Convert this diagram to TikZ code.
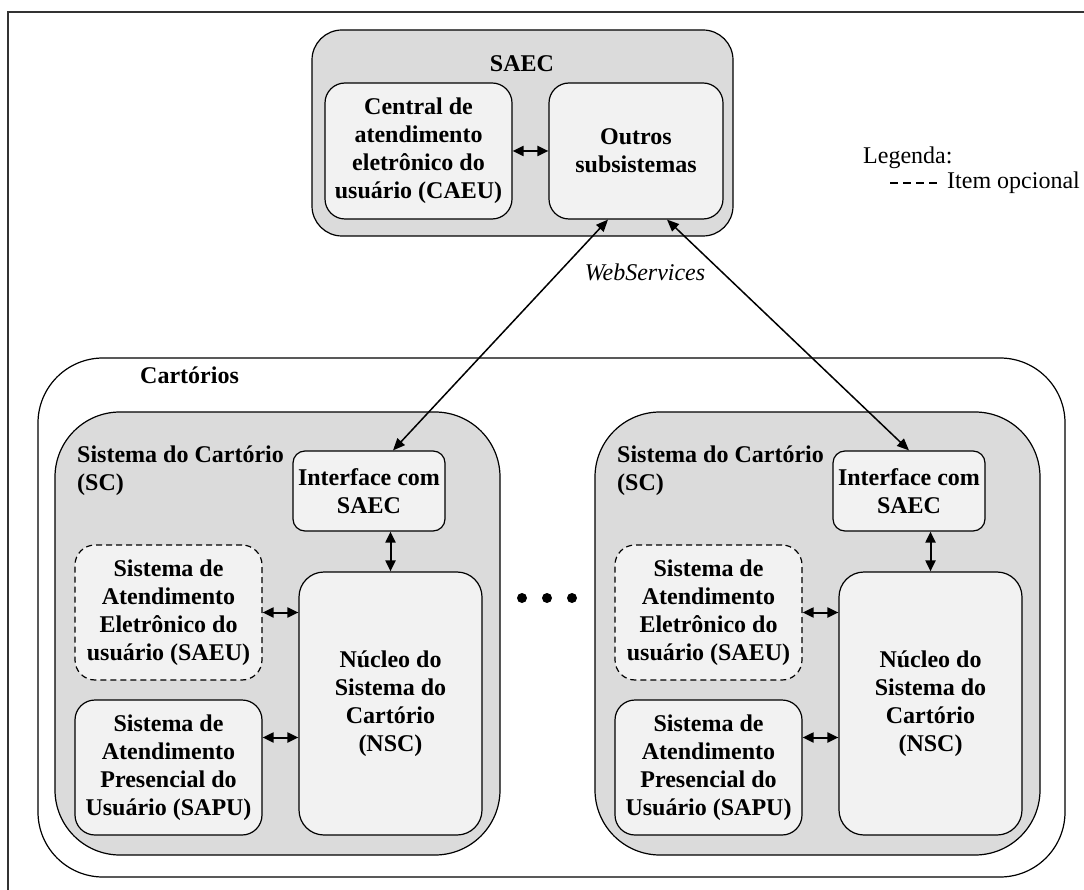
\documentclass[tikz,border=0pt]{standalone}
\usepackage{fontspec}
\setmainfont{Liberation Serif}
\usepackage{xcolor}
\colorlet{colSys}{black!14}
\colorlet{colSub}{black!5}
\colorlet{colFrame}{black!80}
\usepackage{tikz}
\usetikzlibrary{arrows.meta}
\newcommand{\diagfont}{\fontsize{24}{28}\selectfont}
\tikzset{
	sysbox/.style={draw, line width=1.2pt, rounded corners=#1, fill=colSys, inner sep=0pt},
	sysbox/.default=30pt,
	subbox/.style={draw, line width=1.2pt, rounded corners=#1, fill=colSub, align=center, inner sep=0pt, font=\diagfont\bfseries},
	subbox/.default=20pt,
	optbox/.style={subbox, dash pattern=on 6pt off 4pt},
	lbl/.style={inner sep=0pt, font=\diagfont\bfseries},
	biarr/.style={{Triangle[length=11pt, width=10pt]}-{Triangle[length=11pt, width=10pt]}, line width=2pt},
	wsarr/.style={{Triangle[length=12pt, width=10pt]}-{Triangle[length=12pt, width=10pt]}, line width=1.5pt},
}

\begin{document}
\begin{tikzpicture}[x=1pt, y=-1pt]
	\useasboundingbox (0,0) rectangle (1084,890);
	\draw[line width=2pt, colFrame] (8,890) |- (1084,12);

	% SAEC
	\node[sysbox, minimum width=421pt, minimum height=206pt] (saec) at (522.5,133) {};
	\node[lbl, anchor=base] (saecLbl) at (522,72) {SAEC};
	\node[subbox, minimum width=187pt, minimum height=136pt] (caeu) at (418.5,151) {Central de\\atendimento\\eletrônico do\\usuário (CAEU)};
	\node[subbox, minimum width=174pt, minimum height=136pt] (out) at (636,151) {Outros\\subsistemas};
	\draw[biarr] (caeu) -- (out);

	% Legenda
	\node[inner sep=0pt, font=\diagfont, anchor=west] (leg) at (863,158) {Legenda:};
	\node[inner sep=0pt, font=\diagfont, anchor=west] (opt) at (947,183) {Item opcional};
	\draw[line width=1.2pt, dash pattern=on 8pt off 5pt] ([xshift=-57pt]opt.west) -- ([xshift=-9pt]opt.west);

	% Cartorios
	\node[draw, line width=1.2pt, rounded corners=65pt, minimum width=1027pt, minimum height=519pt] (cart) at (551.5,617.5) {};
	\node[lbl, anchor=west] (cartLbl) at (140,375) {Cartórios};

	% Sistema do Cartorio (esquerda)
	\node[sysbox=65pt, minimum width=445pt, minimum height=443pt] (scL) at (277.5,633.5) {};
	\node[lbl, anchor=west, align=left] (scLblL) at (77,471) {Sistema do Cartório\\(SC)};
	\node[subbox=12pt, minimum width=152pt, minimum height=80pt] (ifL) at (369,491) {Interface com\\SAEC};
	\node[subbox=25pt, minimum width=183pt, minimum height=263pt] (nscL) at (390.5,703.5) {Núcleo do\\Sistema do\\Cartório\\(NSC)};
	\node[optbox, minimum width=187pt, minimum height=135pt] (saeuL) at (168.5,612.5) {Sistema de\\Atendimento\\Eletrônico do\\usuário (SAEU)};
	\node[subbox, minimum width=187pt, minimum height=135pt] (sapuL) at (168.5,767.5) {Sistema de\\Atendimento\\Presencial do\\Usuário (SAPU)};
	\coordinate (sapuLa) at ([yshift=30pt]sapuL.east);
	\draw[biarr] (nscL.north |- ifL.south) -- (nscL.north);
	\draw[biarr] (saeuL.east) -- (saeuL.east -| nscL.west);
	\draw[biarr] (sapuLa) -- (sapuLa -| nscL.west);

	% Sistema do Cartorio (direita)
	\node[sysbox=65pt, minimum width=445pt, minimum height=443pt] (scR) at (817.5,633.5) {};
	\node[lbl, anchor=west, align=left] (scLblR) at (617,471) {Sistema do Cartório\\(SC)};
	\node[subbox=12pt, minimum width=152pt, minimum height=80pt] (ifR) at (909,491) {Interface com\\SAEC};
	\node[subbox=25pt, minimum width=183pt, minimum height=263pt] (nscR) at (930.5,703.5) {Núcleo do\\Sistema do\\Cartório\\(NSC)};
	\node[optbox, minimum width=187pt, minimum height=135pt] (saeuR) at (708.5,612.5) {Sistema de\\Atendimento\\Eletrônico do\\usuário (SAEU)};
	\node[subbox, minimum width=187pt, minimum height=135pt] (sapuR) at (708.5,767.5) {Sistema de\\Atendimento\\Presencial do\\Usuário (SAPU)};
	\coordinate (sapuRa) at ([yshift=30pt]sapuR.east);
	\draw[biarr] (nscR.north |- ifR.south) -- (nscR.north);
	\draw[biarr] (saeuR.east) -- (saeuR.east -| nscR.west);
	\draw[biarr] (sapuRa) -- (sapuRa -| nscR.west);

	% Reticencias
	\fill (522,598) circle (5pt) (547,598) circle (5pt) (572,598) circle (5pt);

	% WebServices
	\draw[wsarr] ([xshift=-28pt]out.south) -- ([xshift=24pt]ifL.north);
	\draw[wsarr] ([xshift=31pt]out.south) -- (ifR.north);
	\node[inner sep=0pt, font=\diagfont\itshape] (ws) at (645,272) {WebServices};
\end{tikzpicture}
\end{document}
